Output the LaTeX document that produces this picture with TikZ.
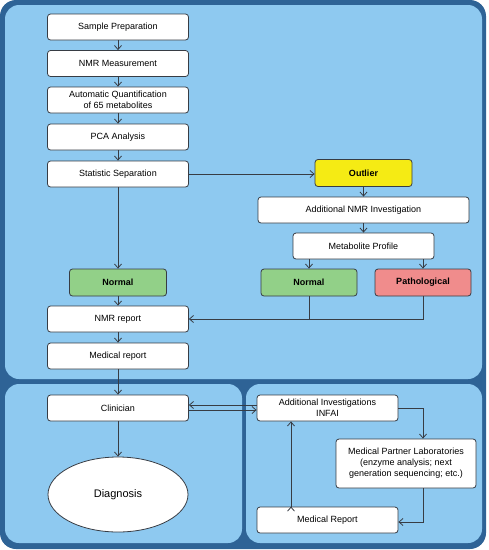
\documentclass[tikz,border=0pt]{standalone}
\usepackage{fontspec}
\setmainfont{Liberation Sans}
\usetikzlibrary{arrows.meta,shapes.geometric}
\definecolor{panelblue}{RGB}{142,201,240}
\definecolor{darkblue}{RGB}{46,99,150}
\definecolor{linegray}{RGB}{55,60,68}
\definecolor{normalgreen}{RGB}{146,208,136}
\definecolor{pathred}{RGB}{240,140,140}
\definecolor{outlieryellow}{RGB}{245,235,20}
\tikzset{
  box/.style={draw=linegray, fill=white, rounded corners=3pt, line width=0.8pt,
    minimum width=141pt, minimum height=26pt, inner sep=1pt, align=center,
    font=\fontsize{9}{11}\selectfont},
  tagbox/.style={box, minimum width=97pt, minimum height=27pt,
    font=\fontsize{9}{11}\selectfont\bfseries},
  flow/.style={draw=linegray, line width=0.8pt, -{Straight Barb[length=4pt,width=7pt]}},
  plain/.style={draw=linegray, line width=0.8pt}
}
\begin{document}
\begin{tikzpicture}[x=1pt,y=-1pt]
    \useasboundingbox (0,0) rectangle (489,550);
    \fill[darkblue, rounded corners=16pt] (0,0) rectangle (486,549);
    \fill[panelblue, rounded corners=14pt] (5,5) rectangle (482,379);
    \fill[panelblue, rounded corners=14pt] (5,384) rectangle (242,543);
    \fill[panelblue, rounded corners=14pt] (246,384) rectangle (482,543);

    \node[box] (sample) at (118,27)  {Sample Preparation};
    \node[box] (nmr)    at (118,63.5) {NMR Measurement};
    \node[box] (quant)  at (118,100) {Automatic Quantification\\of 65 metabolites};
    \node[box] (pca)    at (118,137) {PCA Analysis};
    \node[box] (stat)   at (118,174) {Statistic Separation};
    \node[tagbox, fill=normalgreen] (normL) at (118,282.5) {Normal};
    \node[box] (nmrrep) at (118,319) {NMR report};
    \node[box] (medrep) at (118,356) {Medical report};
    \node[box] (clin)   at (118,408) {Clinician};
    \node[box, ellipse, rounded corners=0pt, minimum width=140pt, minimum height=75pt,
      font=\fontsize{11}{13}\selectfont] (diag) at (118,494.5) {Diagnosis};

    \node[tagbox, fill=outlieryellow] (outlier) at (363.5,173) {Outlier};
    \node[box, minimum width=211pt] (addnmr) at (363.5,210) {Additional NMR Investigation};
    \node[box] (metab)  at (363.5,246) {Metabolite Profile};
    \node[tagbox, fill=normalgreen, minimum width=96pt] (normR) at (309,282.5) {Normal};
    \node[tagbox, fill=pathred, minimum width=96pt] (path) at (423,282.5) {Pathological};

    \node[box] (addinv) at (327.5,408) {Additional Investigations\\INFAI};
    \node[box, minimum width=140pt, minimum height=49pt] (partner) at (406,463.5)
      {Medical Partner Laboratories\\(enzyme analysis; next\\generation sequencing; etc.)};
    \node[box] (medrep2) at (327.5,520) {Medical Report};

    \path[flow]
      (sample) edge (nmr)
      (nmr) edge (quant)
      (quant) edge (pca)
      (pca) edge (stat)
      (stat) edge (normL)
      (stat.east) edge (stat.east -| outlier.west)
      (outlier) edge (addnmr)
      (addnmr) edge (metab)
      (metab.south -| normR) edge (normR)
      (metab.south -| path) edge (path)
      (normL) edge (nmrrep)
      (nmrrep) edge (medrep)
      (medrep) edge (clin)
      (clin) edge (diag)
      ([yshift=3pt]addinv.west) edge ([yshift=3pt]clin.east)
      ([yshift=-2pt]clin.east) edge ([yshift=-2pt]addinv.west)
      ([xshift=-36.5pt]medrep2.north) edge ([xshift=-36.5pt]addinv.south);
    \draw[plain] (normR.south) -- (normR.south |- nmrrep.east);
    \draw[flow] (path.south) |- (nmrrep.east);
    \draw[flow] (addinv.east) -| ([xshift=17pt]partner.north);
    \draw[flow] ([xshift=17pt]partner.south) |- ([yshift=-2pt]medrep2.east);
\end{tikzpicture}
\end{document}
